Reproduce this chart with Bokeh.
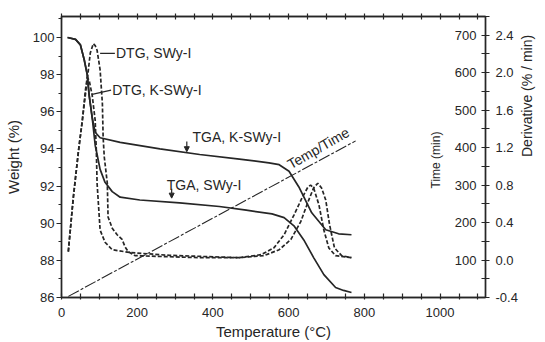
from math import pi
from bokeh.plotting import figure
from bokeh.models import (Range1d, LinearAxis, FixedTicker, Arrow, NormalHead,
                          ColumnDataSource, Label, PrintfTickFormatter)
from bokeh.core.properties import value
from bokeh.embed import file_html
from bokeh.resources import INLINE

FONT = "Liberation Sans"
INK = "#262626"

# ---------------- data ----------------
temp_ticks = [0, 200, 400, 600, 800, 1000]
temp_minor = [50, 100, 150, 250, 300, 350, 450, 500, 550, 650, 700, 750, 850, 900, 950, 1050, 1100]
weight_ticks = [86, 88, 90, 92, 94, 96, 98, 100]
weight_minor = [87, 89, 91, 93, 95, 97, 99, 101]
deriv_ticks = [-0.4, 0.0, 0.4, 0.8, 1.2, 1.6, 2.0, 2.4]
deriv_minor = [-0.2, 0.2, 0.6, 1.0, 1.4, 1.8, 2.2, 2.6]
time_ticks = [100, 200, 300, 400, 500, 600, 700]
time_labels = ["100", "200", "300", "400", "500", "600", "700"]

# TGA, K-SWy-I (weight %)
tga_k_T = [16, 37, 50, 60, 68, 73, 81, 89, 102, 155, 260, 365, 470, 548, 575, 601,
           627, 661, 698, 732, 766]
tga_k_w = [100.0, 99.9, 99.6, 98.8, 98.0, 96.9, 95.7, 94.9, 94.6, 94.35, 94.0, 93.7,
           93.45, 93.25, 93.15, 92.8, 91.95, 90.56, 89.65, 89.43, 89.38]

# TGA, SWy-I (weight %)
tga_s_T = [16, 37, 50, 60, 68, 73, 81, 89, 94, 102, 115, 134, 155, 207, 312, 417, 488,
           556, 588, 614, 640, 666, 693, 724, 745, 766]
tga_s_w = [100.0, 99.9, 99.6, 98.8, 98.0, 96.9, 95.7, 94.2, 93.7, 92.9, 92.2, 91.7,
           91.4, 91.25, 91.1, 90.9, 90.7, 90.5, 90.3, 89.86, 89.1, 88.15, 87.23, 86.54,
           86.38, 86.27]

# DTG, K-SWy-I (% / min)
dtg_k_T = [18, 31, 45, 55, 63, 68, 73, 81, 89, 92, 94, 102, 115, 134, 181, 286, 470,
           527, 561, 588, 614, 635, 651, 658, 666, 680, 693, 706, 724, 766]
dtg_k_d = [0.09, 0.66, 1.17, 1.49, 1.81, 1.95, 1.92, 1.76, 1.49, 1.17, 0.82, 0.32, 0.19,
           0.11, 0.08, 0.05, 0.025, 0.057, 0.13, 0.27, 0.48, 0.66, 0.78, 0.80, 0.77,
           0.59, 0.32, 0.13, 0.047, 0.025]

# DTG, SWy-I (% / min)
dtg_s_T = [18, 31, 45, 55, 63, 71, 76, 84, 89, 94, 102, 108, 110, 113, 121, 123, 134,
           147, 160, 168, 176, 194, 365, 470, 535, 575, 606, 632, 653, 666, 677, 687,
           698, 708, 721, 740, 766]
dtg_s_d = [0.09, 0.66, 1.17, 1.49, 1.76, 2.03, 2.21, 2.31, 2.29, 2.24, 2.03, 1.67, 1.31,
           1.10, 0.82, 0.46, 0.34, 0.27, 0.22, 0.14, 0.09, 0.047, 0.025, 0.025, 0.047,
           0.11, 0.22, 0.41, 0.64, 0.77, 0.82, 0.77, 0.64, 0.38, 0.13, 0.047, 0.025]

# Temp / Time (min)
tt_T = [18, 777]
tt_min = [3, 418]

# ---------------- figure ----------------
p = figure(width=545, height=342, x_range=Range1d(0, 1120), y_range=Range1d(86, 101.13),
           output_backend="svg", toolbar_location=None,
           min_border_left=61, min_border_right=57, min_border_top=16, min_border_bottom=44)
p.extra_y_ranges = {"deriv": Range1d(-0.4, 2.6), "time": Range1d(0, 750)}
p.grid.visible = False
p.outline_line_color = INK
p.outline_line_width = 1.4
p.background_fill_color = "white"
p.border_fill_color = "white"


def style_axis(ax):
    ax.axis_line_color = INK
    ax.axis_line_width = 1.4
    ax.major_tick_line_color = INK
    ax.minor_tick_line_color = INK
    ax.major_tick_line_width = 1.2
    ax.minor_tick_line_width = 1.2
    ax.major_label_text_font = FONT
    ax.major_label_text_font_size = "13px"
    ax.major_label_text_color = INK
    ax.axis_label_text_font = FONT
    ax.axis_label_text_font_size = "15px"
    ax.axis_label_text_font_style = "normal"
    ax.axis_label_text_color = INK


# bottom
xa = p.xaxis[0]
xa.ticker = FixedTicker(ticks=temp_ticks, minor_ticks=temp_minor)
style_axis(xa)
xa.major_tick_in = 4
xa.major_tick_out = 2
xa.minor_tick_in = 4
xa.minor_tick_out = 2
xa.major_label_standoff = 8
xa.axis_label = "Temperature (°C)"
xa.axis_label_standoff = 3

# top (ticks only)
top = LinearAxis(ticker=FixedTicker(ticks=temp_ticks, minor_ticks=temp_minor))
style_axis(top)
top.major_tick_in = 3
top.major_tick_out = 3
top.minor_tick_in = 3
top.minor_tick_out = 3
top.major_label_overrides = {t: "" for t in temp_ticks}
top.major_label_standoff = 0
p.add_layout(top, "above")

# left
ya = p.yaxis[0]
ya.ticker = FixedTicker(ticks=weight_ticks, minor_ticks=weight_minor)
style_axis(ya)
ya.major_tick_in = 0
ya.major_tick_out = 5
ya.minor_tick_in = 0
ya.minor_tick_out = 3
ya.major_label_standoff = 2
ya.axis_label = "Weight (%)"
ya.axis_label_standoff = 8

# right (derivative)
ra = LinearAxis(y_range_name="deriv", ticker=FixedTicker(ticks=deriv_ticks, minor_ticks=deriv_minor),
                formatter=PrintfTickFormatter(format="%.1f"))
style_axis(ra)
ra.major_tick_in = 4
ra.major_tick_out = 4
ra.minor_tick_in = 4
ra.minor_tick_out = 4
ra.major_label_standoff = 6
ra.axis_label = "Derivative (% / min)"
ra.axis_label_standoff = 6
ra.axis_label_text_font_size = "14px"
try:
    ra.axis_label_orientation = pi / 2
except Exception:
    pass
p.add_layout(ra, "right")

# ---------------- curves ----------------
p.line(tga_k_T, tga_k_w, line_color=INK, line_width=1.7)
p.line(tga_s_T, tga_s_w, line_color=INK, line_width=1.7)
p.line(dtg_k_T, dtg_k_d, y_range_name="deriv", line_color=INK, line_width=1.7, line_dash="4 2")
p.line(dtg_s_T, dtg_s_d, y_range_name="deriv", line_color=INK, line_width=1.7, line_dash="4 2")
p.line(tt_T, tt_min, y_range_name="time", line_color=INK, line_width=1.1, line_dash="12 2 3 2")

# time labels inside, to the left of the right axis
tsrc = ColumnDataSource(dict(x=[1120] * len(time_ticks), y=time_ticks, t=time_labels))
p.text(x="x", y="y", text="t", source=tsrc, y_range_name="time", x_offset=-9,
       text_align="right", text_baseline="middle", text_font=value(FONT),
       text_font_size="13px", text_color=INK)

# ---------------- annotations ----------------
def lab(x, y, t, size="14px", angle=0.0, align="left", baseline="middle", **kw):
    p.add_layout(Label(x=x, y=y, text=t, text_font=FONT, text_font_size=size,
                       text_color=INK, angle=angle, text_align=align,
                       text_baseline=baseline, **kw))

lab(144, 99.14, "DTG, SWy-I")
p.segment(x0=[102], y0=[99.14], x1=[141], y1=[99.14], line_color=INK, line_width=1.3)
lab(134, 97.16, "DTG, K-SWy-I")
p.segment(x0=[81], y0=[96.94], x1=[131], y1=[97.16], line_color=INK, line_width=1.3)
lab(346, 94.64, "TGA, K-SWy-I")
p.add_layout(Arrow(end=NormalHead(size=5, fill_color=INK, line_color=INK),
                   x_start=331, y_start=94.4, x_end=331, y_end=93.85,
                   line_color=INK, line_width=1.2))
lab(278, 92.06, "TGA, SWy-I")
p.add_layout(Arrow(end=NormalHead(size=5, fill_color=INK, line_color=INK),
                   x_start=291, y_start=91.85, x_end=291, y_end=91.35,
                   line_color=INK, line_width=1.2))
lab(610, 92.75, "Temp/Time", size="14px", angle=0.52, baseline="bottom")
lab(989, 93.4, "Time (min)", size="12px", angle=pi / 2, align="center")

open("out.html", "w").write(file_html(p, INLINE))
